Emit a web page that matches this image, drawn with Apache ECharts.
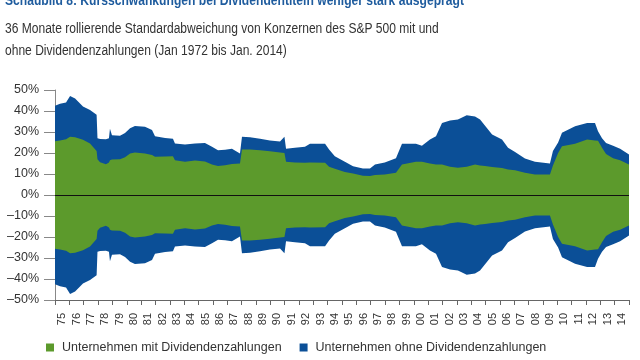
<!DOCTYPE html>
<html>
<head>
<meta charset="utf-8">
<script src="https://cdn.jsdelivr.net/npm/echarts@6/dist/echarts.min.js"></script>
<style>html,body{margin:0;padding:0;background:#fff}#c{width:640px;height:360px}</style>
</head>
<body>
<div id="c"></div>
<script>
// Year labels (category ticks)
var yearLabels = ['75','76','77','78','79','80','81','82','83','84','85','86','87','88','89','90','91','92','93','94','95','96','97','98','99','00','01','02','03','04','05','06','07','08','09','10','11','12','13','14'];
// time points (decimal years)
var times = [1975.0,1975.35,1975.77,1976.05,1976.4,1976.95,1977.44,1977.9,1977.96,1978.14,1978.55,1978.76,1978.83,1978.97,1979.53,1979.88,1980.23,1980.57,1981.27,1981.76,1981.97,1982.67,1983.22,1983.36,1984.06,1984.76,1985.45,1985.94,1986.36,1986.85,1987.33,1987.89,1988.03,1988.59,1989.29,1989.98,1990.68,1990.99,1991.1,1991.72,1992.42,1992.77,1993.82,1994.1,1994.5,1995.2,1995.77,1996.46,1996.95,1997.3,1997.98,1998.76,1999.18,2000.15,2000.57,2001.13,2001.55,2001.97,2002.53,2003.08,2003.69,2004.27,2004.62,2004.97,2005.46,2006.15,2006.57,2007.06,2007.75,2008.45,2009.49,2009.7,2010.06,2010.33,2011.24,2012.08,2012.63,2012.84,2013.12,2013.4,2013.89,2014.38,2015.0];
// rolling std. dev., companies with dividends (%)
var withDiv = [25.6,26,26.5,27.7,27.5,26.3,24.5,21,17,15.6,14.6,15.5,16.5,16.9,17,18,19.8,20.2,19.8,19,18.2,18.3,18.5,16.5,15.8,16.4,16,14.5,13.8,14.2,14.8,15,21.7,21.7,21.3,20.8,20.2,20,15.8,15.5,15.3,15.5,15.4,13.5,12.5,11,10.2,9.2,9,9.5,9.8,10.6,14.5,15.8,15.8,15,14.5,14.5,13.5,13,13.5,14.5,14,13.8,13.3,12.8,12.2,11.8,10.6,9.8,9.8,14,20,23.2,24.4,26.4,26,25.8,22.5,19.5,17.5,16.5,14.5];
// rolling std. dev., companies without dividends (%)
var withoutDiv = [42.5,43.5,44,47.2,46,42.2,40.5,38.2,27,26.7,26.5,27,31.5,28.5,28.2,29.5,31.8,32.8,32.5,31,28,27.2,26.8,24.5,24,24.5,24.8,23,21.3,21.5,22,19.8,27.7,27.5,26.8,26,25.5,27.7,22,22.5,23,24.4,24.4,21.7,18.5,15.8,13.7,12.6,12.6,14.5,15.5,17.5,24.4,24.4,23.5,26.4,28,34.3,35.5,36,38,37.4,36,33,28.8,26.4,22.5,20.5,17.4,15.8,15,21,25,29.6,32.7,34.3,34.3,30.3,27,24.8,23.5,22,19.3];
var nameGreen = 'Unternehmen mit Dividendenzahlungen';
var nameBlue = 'Unternehmen ohne Dividendenzahlungen';
var titleText = 'Schaubild 8: Kursschwankungen bei Dividendentiteln weniger stark ausgeprägt';
var subtitleText = '36 Monate rollierende Standardabweichung von Konzernen des S&P 500 mit und\nohne Dividendenzahlungen (Jan 1972 bis Jan. 2014)';

var GREEN = '#5c9a2c', BLUE = '#0b4f97';
function pairs(arr, sign){ return times.map(function(t,i){ return [t, sign*arr[i]]; }); }
var FONT = "'Liberation Sans','Arial',sans-serif";

function area(name, data, color, extra){
  var s = {name:name, type:'line', xAxisIndex:0, data:data, symbol:'none', silent:true,
    lineStyle:{width:0}, itemStyle:{color:color}, areaStyle:{color:color, opacity:1}};
  if(extra) for(var k in extra) s[k]=extra[k];
  return s;
}

var chart = echarts.init(document.getElementById('c'), null, {renderer:'canvas'});
chart.setOption({
  animation:false,
  textStyle:{fontFamily:FONT},
  graphic:[
    {type:'text', x:5, y:-6, scaleX:0.865, silent:true,
     style:{text:titleText, fontFamily:FONT, fontSize:14, fontWeight:'bold', fill:'#1f5c9e', verticalAlign:'top'}},
    {type:'text', x:5, y:18, scaleX:0.86, silent:true,
     style:{text:subtitleText, fontFamily:FONT, fontSize:14, fill:'#333', lineHeight:22, verticalAlign:'top'}}
  ],
  legend:{data:[nameGreen, nameBlue], left:41, top:336, icon:'rect', itemWidth:8, itemHeight:8, itemGap:18,
    textStyle:{fontFamily:FONT, fontSize:12.5, color:'#333', padding:[0,0,0,3]}},
  grid:{left:55, right:11, top:90, bottom:60},
  xAxis:[
    {type:'value', min:1975, max:2015, interval:1, position:'bottom',
     axisLine:{onZero:false, lineStyle:{color:'#666'}}, axisTick:{length:5, lineStyle:{color:'#666'}},
     axisLabel:{show:false}, splitLine:{show:false}},
    {type:'category', data:yearLabels, position:'bottom', boundaryGap:true,
     axisLine:{show:false}, axisTick:{show:false}, splitLine:{show:false},
     axisLabel:{rotate:90, margin:13, fontSize:11, color:'#333', fontFamily:FONT, interval:0}}
  ],
  yAxis:{type:'value', min:-50, max:50, interval:10,
    axisLine:{show:true, lineStyle:{color:'#888'}}, axisTick:{show:true, length:11, lineStyle:{color:'#888'}},
    splitLine:{show:false},
    axisLabel:{margin:16, fontSize:12.5, color:'#333', fontFamily:FONT,
      formatter:function(v){ return (v<0?'\u2013'+Math.abs(v):v)+'%'; }}},
  series:[
    area(nameBlue, pairs(withoutDiv,1), BLUE),
    area(nameBlue, pairs(withoutDiv,-1), BLUE),
    area(nameGreen, pairs(withDiv,1), GREEN),
    area(nameGreen, pairs(withDiv,-1), GREEN, {
      markLine:{silent:true, symbol:'none', label:{show:false},
        lineStyle:{color:'#111', width:1, type:'solid'}, data:[{yAxis:0}]}})
  ]
});
</script>
</body>
</html>
